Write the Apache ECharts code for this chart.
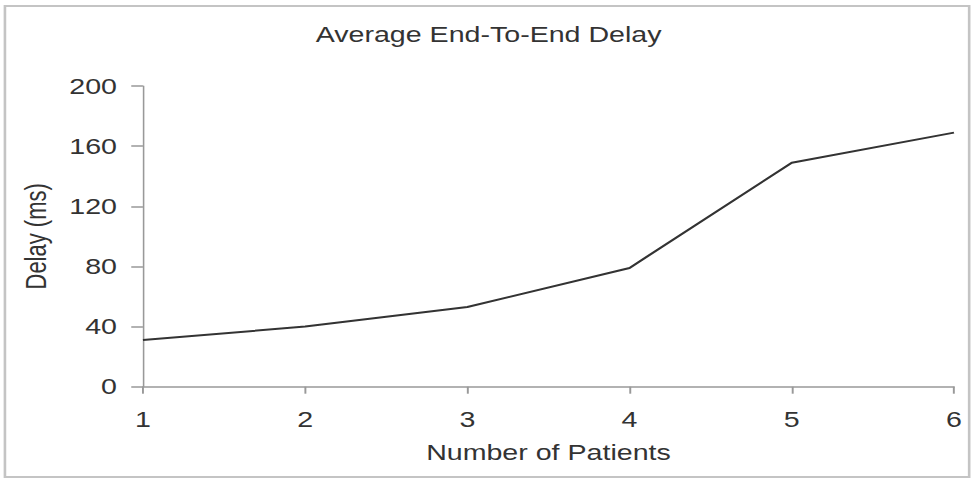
<!DOCTYPE html>
<html>
<head>
<meta charset="utf-8">
<script src="https://cdn.jsdelivr.net/npm/echarts@6/dist/echarts.min.js"></script>
<style>
  html, body { margin: 0; padding: 0; background: #fff; overflow: hidden; }
  #wrap { width: 972px; height: 479px; overflow: hidden; }
  #chart { width: 748px; height: 479px; transform: scaleX(1.2995); transform-origin: 0 0; }
</style>
</head>
<body>
<div id="wrap"><div id="chart"></div></div>
<script>
const titleText = 'Average End-To-End Delay';
const xName = 'Number of Patients';
const yName = 'Delay (ms)';
const patients = [1, 2, 3, 4, 5, 6];
const delay = [31, 40, 53, 79, 149, 169];

const chart = echarts.init(document.getElementById('chart'), null, { renderer: 'svg' });
const font = 'Liberation Sans, Arial, sans-serif';
chart.setOption({
  backgroundColor: '#fff',
  animation: false,
  graphic: [{
    type: 'rect',
    shape: { x: 3.8, y: 6, width: 742, height: 471 },
    style: { fill: 'none', stroke: '#c4c4c4', lineWidth: 2 },
    silent: true
  }],
  title: {
    text: titleText,
    left: 376, top: 23, padding: 0, textAlign: 'center',
    textStyle: { fontFamily: font, fontSize: 22, fontWeight: 'normal', color: '#333' }
  },
  grid: { left: 110, right: 13.9, top: 86, bottom: 92.3, containLabel: false },
  xAxis: {
    type: 'value', min: 1, max: 6, interval: 1,
    name: xName, nameLocation: 'middle', nameGap: 55,
    nameTextStyle: { fontFamily: font, fontSize: 22, color: '#333' },
    axisLine: { show: true, lineStyle: { color: '#999', width: 1.5 } },
    axisTick: { show: true, length: 7, lineStyle: { color: '#999', width: 1.5 } },
    axisLabel: { margin: 22, fontFamily: font, fontSize: 22, color: '#333' },
    splitLine: { show: false }
  },
  yAxis: {
    type: 'value', min: 0, max: 200, interval: 40,
    name: yName, nameLocation: 'middle', nameGap: 71,
    nameTextStyle: { fontFamily: font, fontSize: 22, color: '#333' },
    axisLine: { show: true, lineStyle: { color: '#999', width: 1.2 } },
    axisTick: { show: true, length: 9, lineStyle: { color: '#999', width: 1.5 } },
    axisLabel: { margin: 20, fontFamily: font, fontSize: 22, color: '#333' },
    splitLine: { show: false }
  },
  series: [{
    type: 'line',
    data: patients.map((p, i) => [p, delay[i]]),
    symbol: 'none',
    lineStyle: { color: '#333', width: 2 }
  }]
});
</script>
</body>
</html>
